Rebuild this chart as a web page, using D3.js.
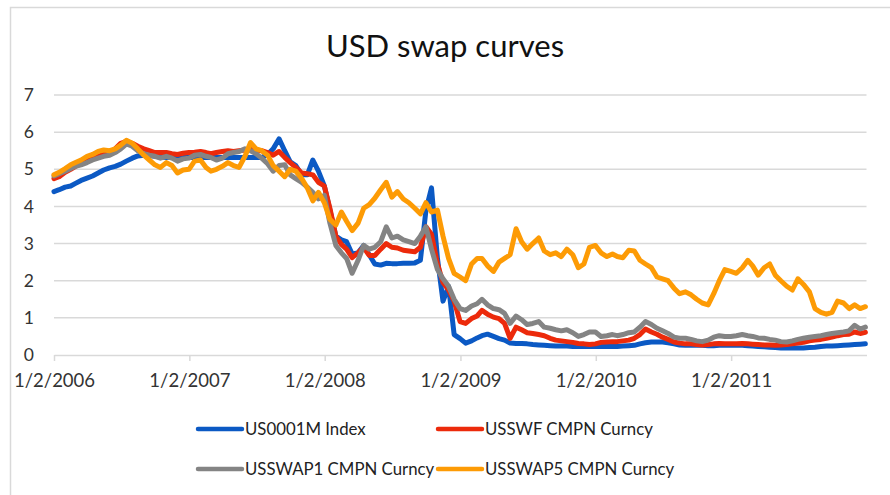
<!DOCTYPE html>
<html>
<head>
<meta charset="utf-8">
<script src="https://cdn.jsdelivr.net/npm/d3@7"></script>
<style>
body { margin: 0; background: #fff; }
text { font-family: Lato, "Open Sans", sans-serif; }
</style>
</head>
<body>
<svg id="chart" width="890" height="495"></svg>
<script>
// semi-monthly readings (1st and 16th of each month), last value is 12/30/2011
var seriesNames = ["US0001M Index", "USSWF CMPN Curncy", "USSWAP1 CMPN Curncy", "USSWAP5 CMPN Curncy"];
var seriesColors = ["#0b59c4", "#ec2a0b", "#848484", "#fd9b05"];

var us0001m = [
    4.40, 4.45, 4.52, 4.55, 4.62, 4.70, 4.76, 4.82, 4.90, 4.98, 5.04, 5.08, 5.14, 5.22, 5.30, 5.36, 5.38, 5.37, 5.35, 5.33, 5.32, 5.33, 5.35, 5.35,
    5.32, 5.32, 5.32, 5.32, 5.32, 5.32, 5.32, 5.32, 5.32, 5.32, 5.32, 5.32, 5.32, 5.32, 5.40, 5.55, 5.82, 5.50, 5.20, 5.10, 4.85, 4.85, 5.25, 4.95,
    4.55, 3.90, 3.20, 3.10, 3.05, 2.72, 2.75, 2.95, 2.70, 2.45, 2.42, 2.47, 2.46, 2.46, 2.47, 2.47, 2.48, 2.55, 3.90, 4.50, 2.60, 1.45, 1.85, 0.55,
    0.44, 0.32, 0.38, 0.46, 0.52, 0.56, 0.50, 0.44, 0.40, 0.32, 0.31, 0.31, 0.30, 0.28, 0.27, 0.26, 0.25, 0.24, 0.24, 0.24, 0.23, 0.23, 0.23, 0.23,
    0.23, 0.23, 0.23, 0.23, 0.23, 0.24, 0.25, 0.26, 0.30, 0.33, 0.35, 0.35, 0.35, 0.33, 0.30, 0.27, 0.26, 0.26, 0.26, 0.26, 0.25, 0.25, 0.26, 0.26,
    0.26, 0.26, 0.26, 0.25, 0.24, 0.23, 0.22, 0.21, 0.20, 0.19, 0.19, 0.19, 0.19, 0.19, 0.20, 0.21, 0.23, 0.24, 0.24, 0.25, 0.26, 0.27, 0.28, 0.29,
    0.30
];

var usswf = [
    4.75, 4.80, 4.92, 5.00, 5.08, 5.15, 5.22, 5.30, 5.35, 5.40, 5.45, 5.55, 5.70, 5.75, 5.70, 5.62, 5.55, 5.50, 5.45, 5.45, 5.45, 5.42, 5.40, 5.43,
    5.45, 5.46, 5.48, 5.45, 5.42, 5.45, 5.48, 5.50, 5.48, 5.50, 5.52, 5.55, 5.52, 5.50, 5.45, 5.38, 5.48, 5.32, 5.18, 5.05, 4.90, 4.88, 4.85, 4.65,
    4.55, 3.95, 3.20, 2.98, 2.85, 2.62, 2.75, 2.90, 2.68, 2.68, 2.85, 3.00, 2.90, 2.88, 2.82, 2.80, 2.78, 2.90, 3.45, 3.25, 2.45, 1.95, 1.75, 1.45,
    0.90, 0.85, 0.98, 1.05, 1.20, 1.10, 1.02, 0.98, 0.85, 0.45, 0.75, 0.68, 0.60, 0.58, 0.55, 0.52, 0.45, 0.40, 0.38, 0.36, 0.34, 0.31, 0.30, 0.28,
    0.30, 0.34, 0.35, 0.36, 0.36, 0.38, 0.40, 0.45, 0.55, 0.70, 0.62, 0.56, 0.48, 0.42, 0.35, 0.32, 0.30, 0.30, 0.28, 0.27, 0.28, 0.30, 0.31, 0.30,
    0.30, 0.30, 0.31, 0.30, 0.29, 0.28, 0.27, 0.27, 0.26, 0.27, 0.28, 0.30, 0.32, 0.34, 0.38, 0.40, 0.42, 0.45, 0.48, 0.52, 0.55, 0.56, 0.62, 0.58,
    0.61
];

var usswap1 = [
    4.82, 4.88, 4.95, 5.02, 5.08, 5.12, 5.18, 5.25, 5.30, 5.35, 5.38, 5.45, 5.55, 5.68, 5.62, 5.50, 5.42, 5.38, 5.35, 5.30, 5.35, 5.30, 5.22, 5.28,
    5.30, 5.38, 5.40, 5.35, 5.32, 5.25, 5.30, 5.42, 5.45, 5.48, 5.55, 5.50, 5.42, 5.30, 5.15, 4.95, 5.10, 5.12, 4.85, 4.75, 4.65, 4.52, 4.38, 4.20,
    4.30, 3.55, 2.95, 2.75, 2.60, 2.20, 2.55, 2.95, 2.85, 2.90, 3.05, 3.45, 3.15, 3.20, 3.10, 3.05, 3.00, 3.20, 3.45, 2.85, 2.30, 2.05, 1.85, 1.50,
    1.25, 1.20, 1.32, 1.38, 1.50, 1.35, 1.25, 1.22, 1.12, 0.85, 1.05, 0.95, 0.82, 0.85, 0.90, 0.75, 0.72, 0.68, 0.65, 0.68, 0.60, 0.50, 0.55, 0.62,
    0.62, 0.50, 0.52, 0.55, 0.52, 0.55, 0.60, 0.62, 0.75, 0.90, 0.82, 0.72, 0.65, 0.58, 0.48, 0.45, 0.45, 0.42, 0.38, 0.36, 0.40, 0.48, 0.52, 0.50,
    0.50, 0.52, 0.55, 0.52, 0.50, 0.46, 0.45, 0.42, 0.40, 0.36, 0.35, 0.38, 0.42, 0.45, 0.48, 0.50, 0.52, 0.55, 0.58, 0.60, 0.62, 0.65, 0.80, 0.70,
    0.75
];

var usswap5 = [
    4.85, 4.92, 5.02, 5.12, 5.18, 5.25, 5.35, 5.40, 5.48, 5.52, 5.50, 5.55, 5.65, 5.78, 5.70, 5.55, 5.38, 5.25, 5.12, 5.05, 5.18, 5.10, 4.90, 4.98,
    5.00, 5.22, 5.25, 5.05, 4.95, 5.00, 5.08, 5.18, 5.10, 5.05, 5.35, 5.72, 5.55, 5.50, 5.38, 5.10, 4.95, 4.80, 5.00, 4.95, 4.75, 4.50, 4.15, 4.38,
    4.10, 3.65, 3.50, 3.85, 3.60, 3.35, 3.55, 3.95, 4.05, 4.22, 4.45, 4.65, 4.25, 4.40, 4.20, 4.10, 3.95, 3.80, 4.10, 3.85, 3.90, 3.20, 2.60, 2.20,
    2.10, 2.00, 2.45, 2.60, 2.60, 2.40, 2.25, 2.50, 2.60, 2.70, 3.40, 3.05, 2.85, 3.00, 3.15, 2.80, 2.70, 2.75, 2.65, 2.85, 2.70, 2.35, 2.45, 2.90,
    2.95, 2.75, 2.65, 2.72, 2.65, 2.62, 2.82, 2.80, 2.55, 2.45, 2.35, 2.10, 2.05, 2.00, 1.80, 1.65, 1.70, 1.62, 1.50, 1.40, 1.35, 1.65, 2.00, 2.30,
    2.25, 2.20, 2.35, 2.55, 2.40, 2.15, 2.35, 2.45, 2.15, 2.00, 1.85, 1.75, 2.05, 1.90, 1.70, 1.25, 1.15, 1.10, 1.15, 1.45, 1.40, 1.25, 1.35, 1.25,
    1.30
];

var yTicks = [0, 1, 2, 3, 4, 5, 6, 7];
var xTickYears = [2006, 2007, 2008, 2009, 2010, 2011];

// dates: 1st and 16th of each month, first is 1/2/2006, then the last trading day
var dates = [];
d3.utcMonths(new Date(Date.UTC(2006, 0, 1)), new Date(Date.UTC(2012, 0, 1))).forEach(function(m) {
    dates.push(m);
    dates.push(d3.utcDay.offset(m, 15));
});
dates[0] = new Date(Date.UTC(2006, 0, 2));
dates.push(new Date(Date.UTC(2011, 11, 30)));

var allSeries = [us0001m, usswf, usswap1, usswap5];

var svg = d3.select("#chart");

// chart area border
svg.append("rect")
    .attr("x", 10.5).attr("y", 7.5)
    .attr("width", 900).attr("height", 520)
    .attr("fill", "#fff")
    .attr("stroke", "#d9d9d9")
    .attr("stroke-width", 1.5);

var xScale = d3.scaleUtc()
    .domain([new Date(Date.UTC(2006, 0, 2)), new Date(Date.UTC(2012, 0, 2))])
    .range([54, 866.5]);

var yScale = d3.scaleLinear()
    .domain([0, 7])
    .range([355, 95]);

svg.append("text")
    .attr("x", 445).attr("y", 57)
    .attr("text-anchor", "middle")
    .attr("font-size", 31)
    .attr("fill", "#111")
    .text("USD swap curves");

// gridlines
svg.append("g")
    .selectAll("line")
    .data(yTicks.filter(function(d) { return d > 0; }))
    .enter()
    .append("line")
    .attr("x1", xScale.range()[0])
    .attr("x2", xScale.range()[1])
    .attr("y1", function(d) { return yScale(d); })
    .attr("y2", function(d) { return yScale(d); })
    .attr("stroke", "#d9d9d9")
    .attr("stroke-width", 1.5);

// y axis labels
var yAxis = svg.append("g")
    .attr("transform", "translate(34, 0)")
    .call(d3.axisLeft(yScale).tickValues(yTicks).tickFormat(d3.format("d")).tickSize(0).tickPadding(0));
yAxis.select(".domain").remove();
yAxis.selectAll("text")
    .attr("font-size", 17.5)
    .attr("font-family", "Lato, sans-serif")
    .attr("fill", "#333");

// x axis
var xAxis = svg.append("g")
    .attr("transform", "translate(0, " + yScale(0) + ")")
    .call(
        d3.axisBottom(xScale)
            .tickValues(xTickYears.map(function(y) { return new Date(Date.UTC(y, 0, 2)); }))
            .tickFormat(function(d) { return "1/2/" + d.getUTCFullYear(); })
            .tickSize(6)
            .tickSizeOuter(0)
            .tickPadding(13)
    );
xAxis.select(".domain").attr("stroke", "#d9d9d9").attr("stroke-width", 1.5);
xAxis.selectAll(".tick line").attr("stroke", "#d9d9d9").attr("stroke-width", 1.5);
xAxis.selectAll("text")
    .attr("font-size", 18.5)
    .attr("font-family", "Lato, sans-serif")
    .attr("fill", "#333");

// lines
var line = d3.line()
    .x(function(d, i) { return xScale(dates[i]); })
    .y(function(d) { return yScale(d); });

svg.append("g")
    .selectAll("path")
    .data(allSeries)
    .enter()
    .append("path")
    .attr("d", line)
    .attr("fill", "none")
    .attr("stroke", function(d, i) { return seriesColors[i]; })
    .attr("stroke-width", 5)
    .attr("stroke-linejoin", "round")
    .attr("stroke-linecap", "round");

// legend
var legendPos = [[198, 429], [438, 429], [198, 469], [438, 469]];
var legend = svg.append("g")
    .selectAll("g")
    .data(seriesNames)
    .enter()
    .append("g")
    .attr("transform", function(d, i) { return "translate(" + legendPos[i][0] + "," + legendPos[i][1] + ")"; });

legend.append("line")
    .attr("x1", 0).attr("x2", 44)
    .attr("stroke", function(d, i) { return seriesColors[i]; })
    .attr("stroke-width", 4.5)
    .attr("stroke-linecap", "round");

legend.append("text")
    .attr("x", 47)
    .attr("dy", "0.35em")
    .attr("font-size", 16.8)
    .attr("fill", "#222")
    .text(function(d) { return d; });
</script>
</body>
</html>
